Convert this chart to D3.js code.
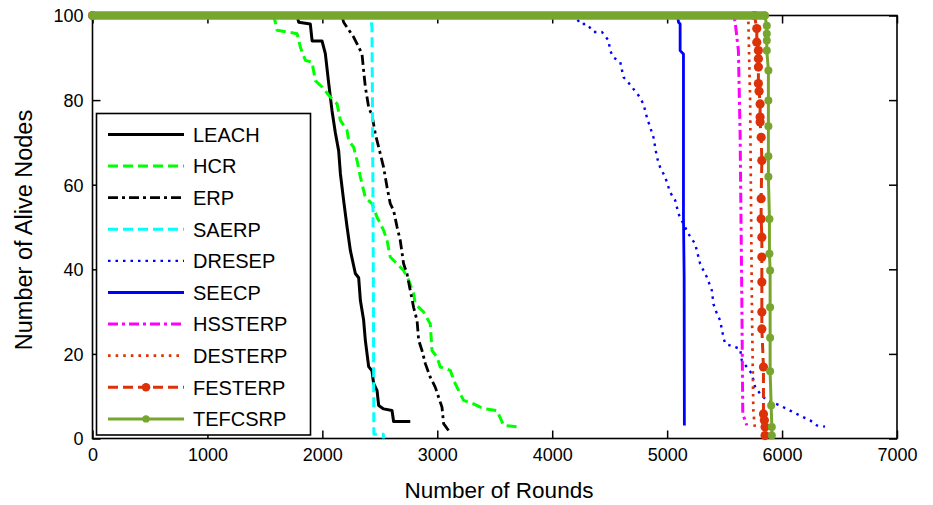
<!DOCTYPE html>
<html>
<head>
<meta charset="utf-8">
<script src="https://cdn.jsdelivr.net/npm/d3@7/dist/d3.min.js"></script>
<style>
  html, body { margin: 0; padding: 0; background: #fff; }
  svg { display: block; font-family: "Liberation Sans", Arial, Helvetica, sans-serif; }
</style>
</head>
<body>
<svg id="chart" width="933" height="505"></svg>
<script>
// Network lifetime: alive nodes vs. simulation round, one [round, alive] list per protocol
const LEACH = [[0,100],[1780,100],[1794,98.4],[1895,98],[1911,94],[1997,94],[2026,91],[2055,84],[2084,77.5],[2113,72.3],[2142,68],[2157,62.6],[2185,56.3],[2215,50],[2244,44.4],[2287,39],[2316,38],[2331,32.6],[2359,28],[2374,23.2],[2403,17],[2432,16],[2446,13],[2476,11.3],[2490,7.8],[2533,7],[2606,6.6],[2620,4],[2765,4]];
const HCR = [[0,100],[1575,100],[1591,98.4],[1606,96.5],[1780,95.7],[1809,92.5],[1852,89.4],[1910,89],[1939,84.6],[1998,83.1],[2070,80.7],[2128,79.1],[2157,75.2],[2215,72.8],[2229,70.4],[2272,68.9],[2302,65.7],[2331,61.8],[2374,57],[2432,55.5],[2476,52.3],[2533,49.2],[2563,46.8],[2591,42.9],[2650,41.3],[2707,39.7],[2751,37.4],[2794,34.2],[2809,31.8],[2881,29.9],[2939,27.1],[2954,20.8],[2998,19.2],[3026,16.9],[3113,16.1],[3157,12.9],[3229,9],[3316,8.2],[3374,7.4],[3418,7],[3519,6.6],[3577,3.1],[3722,2.7]];
const ERP = [[0,100],[2170,100],[2185,98.4],[2215,97.2],[2272,94.9],[2302,93.3],[2345,90.9],[2359,87],[2374,83.1],[2403,78.3],[2432,76.4],[2461,72],[2490,68.9],[2533,64.1],[2563,59.4],[2591,55.5],[2620,53.9],[2650,50],[2678,46.8],[2707,41.3],[2737,38.9],[2765,35],[2794,31],[2824,27.9],[2838,23.2],[2867,20.8],[2896,17.7],[2939,14.5],[2983,12.1],[3011,9.8],[3041,7.4],[3055,3.5],[3098,1.9]];
const SAERP = [[0,100],[2420,100],[2432,97],[2440,60],[2446,20],[2448,1],[2530,1],[2532,0]];
const DRESEP = [[0,100],[4200,100],[4244,98],[4302,98],[4359,96.1],[4432,96.1],[4490,94.1],[4504,91.7],[4533,90.1],[4592,89],[4620,85.4],[4650,84.6],[4693,83.1],[4751,81.1],[4794,79.1],[4824,75.9],[4852,73.6],[4881,71.2],[4911,66.5],[4939,64.1],[4983,61.8],[5026,58.2],[5070,56.3],[5099,53.1],[5128,51.5],[5185,48.4],[5244,46],[5287,41.3],[5346,38.1],[5389,35],[5403,31.8],[5433,29.5],[5461,27.9],[5490,23.9],[5505,22.4],[5635,21.2],[5650,18.4],[5693,16.9],[5737,15.3],[5766,12.1],[5809,10.6],[5867,9],[5983,7.8],[6070,6.6],[6157,5.4],[6244,4.3],[6302,3.1],[6374,2.8]];
const SEECP = [[0,100],[5090,100],[5099,98.4],[5113,98],[5113,91.7],[5142,90.9],[5142,52.3],[5148,38.1],[5150,3.1]];
const HSSTERP = [[0,100],[5580,100],[5592,98.4],[5620,91.7],[5635,72],[5650,32.6],[5658,5.8],[5678,4.3],[5693,3.1]];
const DESTERP = [[0,100],[5700,100],[5707,98.4],[5722,80],[5737,32.6],[5750,6.6],[5765,2]];
const FESTERP = [[0,100],[5760,100],[5780,96.9],[5780,93.7],[5794,91.7],[5794,89.8],[5794,87.8],[5794,83.9],[5800,82.1],[5809,79.1],[5809,76],[5809,74.8],[5818,71.2],[5824,65.7],[5818,56.7],[5818,51.9],[5824,47.6],[5824,42.9],[5824,37],[5824,29.9],[5824,25.9],[5838,16.9],[5838,5.8],[5846,4.3],[5852,2.7],[5852,0.7]];
const TEFCSRP = [[0,100],[5850,100],[5867,97.6],[5867,95.7],[5867,94.1],[5867,91.7],[5881,87],[5881,79.9],[5881,73.8],[5881,66.7],[5881,61.9],[5890,51.9],[5890,43.7],[5896,39.7],[5896,31],[5896,23.8],[5896,15.9],[5905,7.8],[5911,2.7],[5911,0.7]];

const protocolNames = ["LEACH","HCR","ERP","SAERP","DRESEP","SEECP","HSSTERP","DESTERP","FESTERP","TEFCSRP"];
const protocolData = [LEACH, HCR, ERP, SAERP, DRESEP, SEECP, HSSTERP, DESTERP, FESTERP, TEFCSRP];

const xTicks = [0,1000,2000,3000,4000,5000,6000,7000];
const yTicks = [0,20,40,60,80,100];
const xTitle = "Number of Rounds";
const yTitle = "Number of Alive Nodes";

// line styling per protocol
const styles = {
  LEACH:   {color:"#000000", width:3.0, dash:null},
  HCR:     {color:"#00ff00", width:3.0, dash:"10,5"},
  ERP:     {color:"#000000", width:2.8, dash:"10,4,3,4"},
  SAERP:   {color:"#00ffff", width:3.0, dash:"10,5"},
  DRESEP:  {color:"#0000ff", width:2.4, dash:"2.5,5"},
  SEECP:   {color:"#0000ff", width:2.8, dash:null},
  HSSTERP: {color:"#ff00ff", width:3.0, dash:"10,4,3,4"},
  DESTERP: {color:"#dd3209", width:2.7, dash:"2.6,5"},
  FESTERP: {color:"#dd3209", width:3.0, dash:"10,5", marker:4.6},
  TEFCSRP: {color:"#77a62e", width:3.0, dash:null, marker:4.0}
};

const svg = d3.select("#chart");
const plotLeft = 92.5, plotRight = 897, plotTop = 15.5, plotBottom = 438.5;

const x = d3.scaleLinear().domain([0,7000]).range([plotLeft, plotRight]);
const y = d3.scaleLinear().domain([0,100]).range([plotBottom, plotTop]);

// frame
svg.append("rect")
  .attr("x", plotLeft).attr("y", plotTop)
  .attr("width", plotRight - plotLeft).attr("height", plotBottom - plotTop)
  .attr("fill", "none").attr("stroke", "#000").attr("stroke-width", 1.6);

// axes with inward ticks on all four sides
const tickFont = "18px";
const gx = svg.append("g").attr("transform", `translate(0,${plotBottom})`)
  .call(d3.axisBottom(x).tickValues(xTicks).tickFormat(d3.format("d")).tickSize(-8).tickPadding(10));
const gxTop = svg.append("g").attr("transform", `translate(0,${plotTop})`)
  .call(d3.axisTop(x).tickValues(xTicks).tickFormat("").tickSize(-8));
const gy = svg.append("g").attr("transform", `translate(${plotLeft},0)`)
  .call(d3.axisLeft(y).tickValues(yTicks).tickFormat(d3.format("d")).tickSize(-8).tickPadding(9));
const gyRight = svg.append("g").attr("transform", `translate(${plotRight},0)`)
  .call(d3.axisRight(y).tickValues(yTicks).tickFormat("").tickSize(-8));

[gx, gxTop, gy, gyRight].forEach(g => {
  g.select(".domain").remove();
  g.selectAll(".tick line").attr("stroke", "#000").attr("stroke-width", 1.5);
  g.selectAll(".tick text").attr("fill", "#000").style("font-size", tickFont)
    .style("font-family", '"Liberation Sans", Arial, sans-serif');
});
gy.selectAll(".tick text").attr("dy", "0.36em");

// axis titles
svg.append("text")
  .attr("x", 499).attr("y", 498)
  .attr("text-anchor", "middle")
  .style("font-size", "22.5px")
  .text(xTitle);
svg.append("text")
  .attr("transform", "translate(32,230) rotate(-90)")
  .attr("text-anchor", "middle")
  .style("font-size", "23.5px")
  .text(yTitle);

// series
const line = d3.line().x(d => x(d[0])).y(d => y(d[1]));
const plot = svg.append("g");

protocolNames.forEach((name, i) => {
  const data = protocolData[i];
  const st = styles[name];
  if (name === "TEFCSRP") {
    // markers along the full-alive plateau sit so close together that they merge into one solid bar
    const plateau = data.filter(d => d[1] === 100);
    plot.append("path")
      .datum([plateau[0], plateau[plateau.length - 1]])
      .attr("d", line)
      .attr("fill", "none")
      .attr("stroke", st.color)
      .attr("stroke-width", st.marker * 2 + 0.5)
      .attr("stroke-linecap", "round");
  }
  plot.append("path")
    .datum(data)
    .attr("d", line)
    .attr("fill", "none")
    .attr("stroke", st.color)
    .attr("stroke-width", st.width)
    .attr("stroke-dasharray", st.dash)
    .attr("stroke-linejoin", "round");
  if (st.marker) {
    plot.append("g").selectAll("circle")
      .data(data)
      .join("circle")
      .attr("cx", d => x(d[0]))
      .attr("cy", d => y(d[1]))
      .attr("r", st.marker)
      .attr("fill", st.color);
  }
});

// legend
const lgX = 96.5, lgY = 113.5, lgW = 214, lgH = 321.5;
const legend = svg.append("g");
legend.append("rect")
  .attr("x", lgX).attr("y", lgY).attr("width", lgW).attr("height", lgH)
  .attr("fill", "#fff").attr("stroke", "#000").attr("stroke-width", 1.6);

protocolNames.forEach((name, i) => {
  const st = styles[name];
  const cy = 134.5 + i * 31.6;
  legend.append("line")
    .attr("x1", 108).attr("x2", 184).attr("y1", cy).attr("y2", cy)
    .attr("stroke", st.color).attr("stroke-width", st.width)
    .attr("stroke-dasharray", st.dash);
  if (st.marker) {
    legend.append("circle").attr("cx", 146).attr("cy", cy).attr("r", st.marker - 0.3).attr("fill", st.color);
  }
  legend.append("text")
    .attr("x", 193).attr("y", cy).attr("dy", "0.36em")
    .style("font-size", "20px")
    .text(name);
});
</script>
</body>
</html>
